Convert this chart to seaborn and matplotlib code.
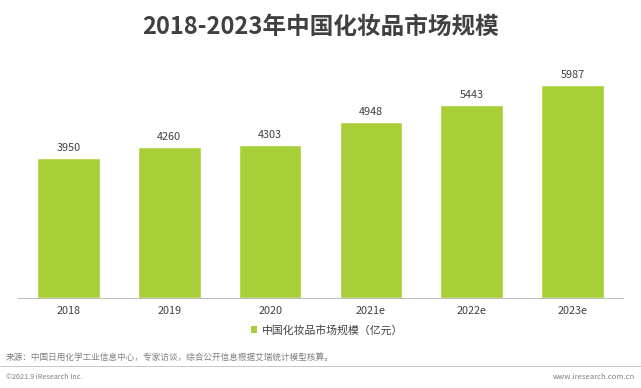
import matplotlib
matplotlib.use("Agg")
import matplotlib.pyplot as plt
import seaborn as sns
import pandas as pd
from matplotlib.lines import Line2D
from matplotlib.patches import Patch

years = ["2018", "2019", "2020", "2021e", "2022e", "2023e"]
values = [3950, 4260, 4303, 4948, 5443, 5987]
series_name = "中国化妆品市场规模（亿元）"
title = "2018-2023年中国化妆品市场规模"
source = "来源：中国日用化学工业信息中心，专家访谈，综合公开信息根据艾瑞统计模型核算。"
copyright_txt = "©2021.9 iResearch Inc."
website = "www.iresearch.com.cn"

sns.set_theme(style="white")
plt.rcParams['font.family'] = ['Noto Sans CJK SC', 'DejaVu Sans']

W, H = 641, 388
fig = plt.figure(figsize=(W/100, H/100), dpi=100)
ax_left, ax_right = 18, 623
ax_top, ax_bottom = 60, 298
ax = fig.add_axes([ax_left/W, 1 - ax_bottom/H, (ax_right-ax_left)/W, (ax_bottom-ax_top)/H])

df = pd.DataFrame({"year": years, "value": values})
color = "#A8CF38"
sns.barplot(data=df, x="year", y="value", color=color, width=0.62, ax=ax, saturation=1)
ax.set_ylim(0, 6700)
ax.set_xlim(-0.5, len(years)-0.5)
for i, v in enumerate(values):
    ax.text(i, v + 140, f"{v}", ha="center", va="bottom", fontsize=7.8, color="#404040")

for s in ["top", "right", "left"]:
    ax.spines[s].set_visible(False)
ax.spines["bottom"].set_color("#bfbfbf")
ax.spines["bottom"].set_linewidth(0.8)
ax.set_yticks([])
ax.set_xlabel("")
ax.set_ylabel("")
ax.tick_params(axis="x", length=0, labelsize=7.8, labelcolor="#404040", pad=6)

fig.text(0.5, 1 - 27/H, title, ha="center", va="center", fontsize=17, fontweight="bold", color="#404040")

leg = fig.legend(handles=[Patch(facecolor=color, edgecolor="none", label=series_name)],
                 loc="center", bbox_to_anchor=(327/W, 1 - 330/H), frameon=False,
                 fontsize=7.8, handlelength=0.6, handleheight=0.6, handletextpad=0.4)
for t in leg.get_texts():
    t.set_color("#404040")

fig.text(6/W, 1 - 357/H, source, ha="left", va="center", fontsize=6.2, color="#7f7f7f")
fig.add_artist(Line2D([0, 1], [1 - 366/H, 1 - 366/H], color="#bfbfbf", linewidth=0.6, transform=fig.transFigure))
fig.text(6/W, 1 - 377/H, copyright_txt, ha="left", va="center", fontsize=5.2, color="#7f7f7f")
fig.text(1 - 6/W, 1 - 377/H, website, ha="right", va="center", fontsize=5.5, color="#7f7f7f")

fig.savefig("out.png", dpi=100)
